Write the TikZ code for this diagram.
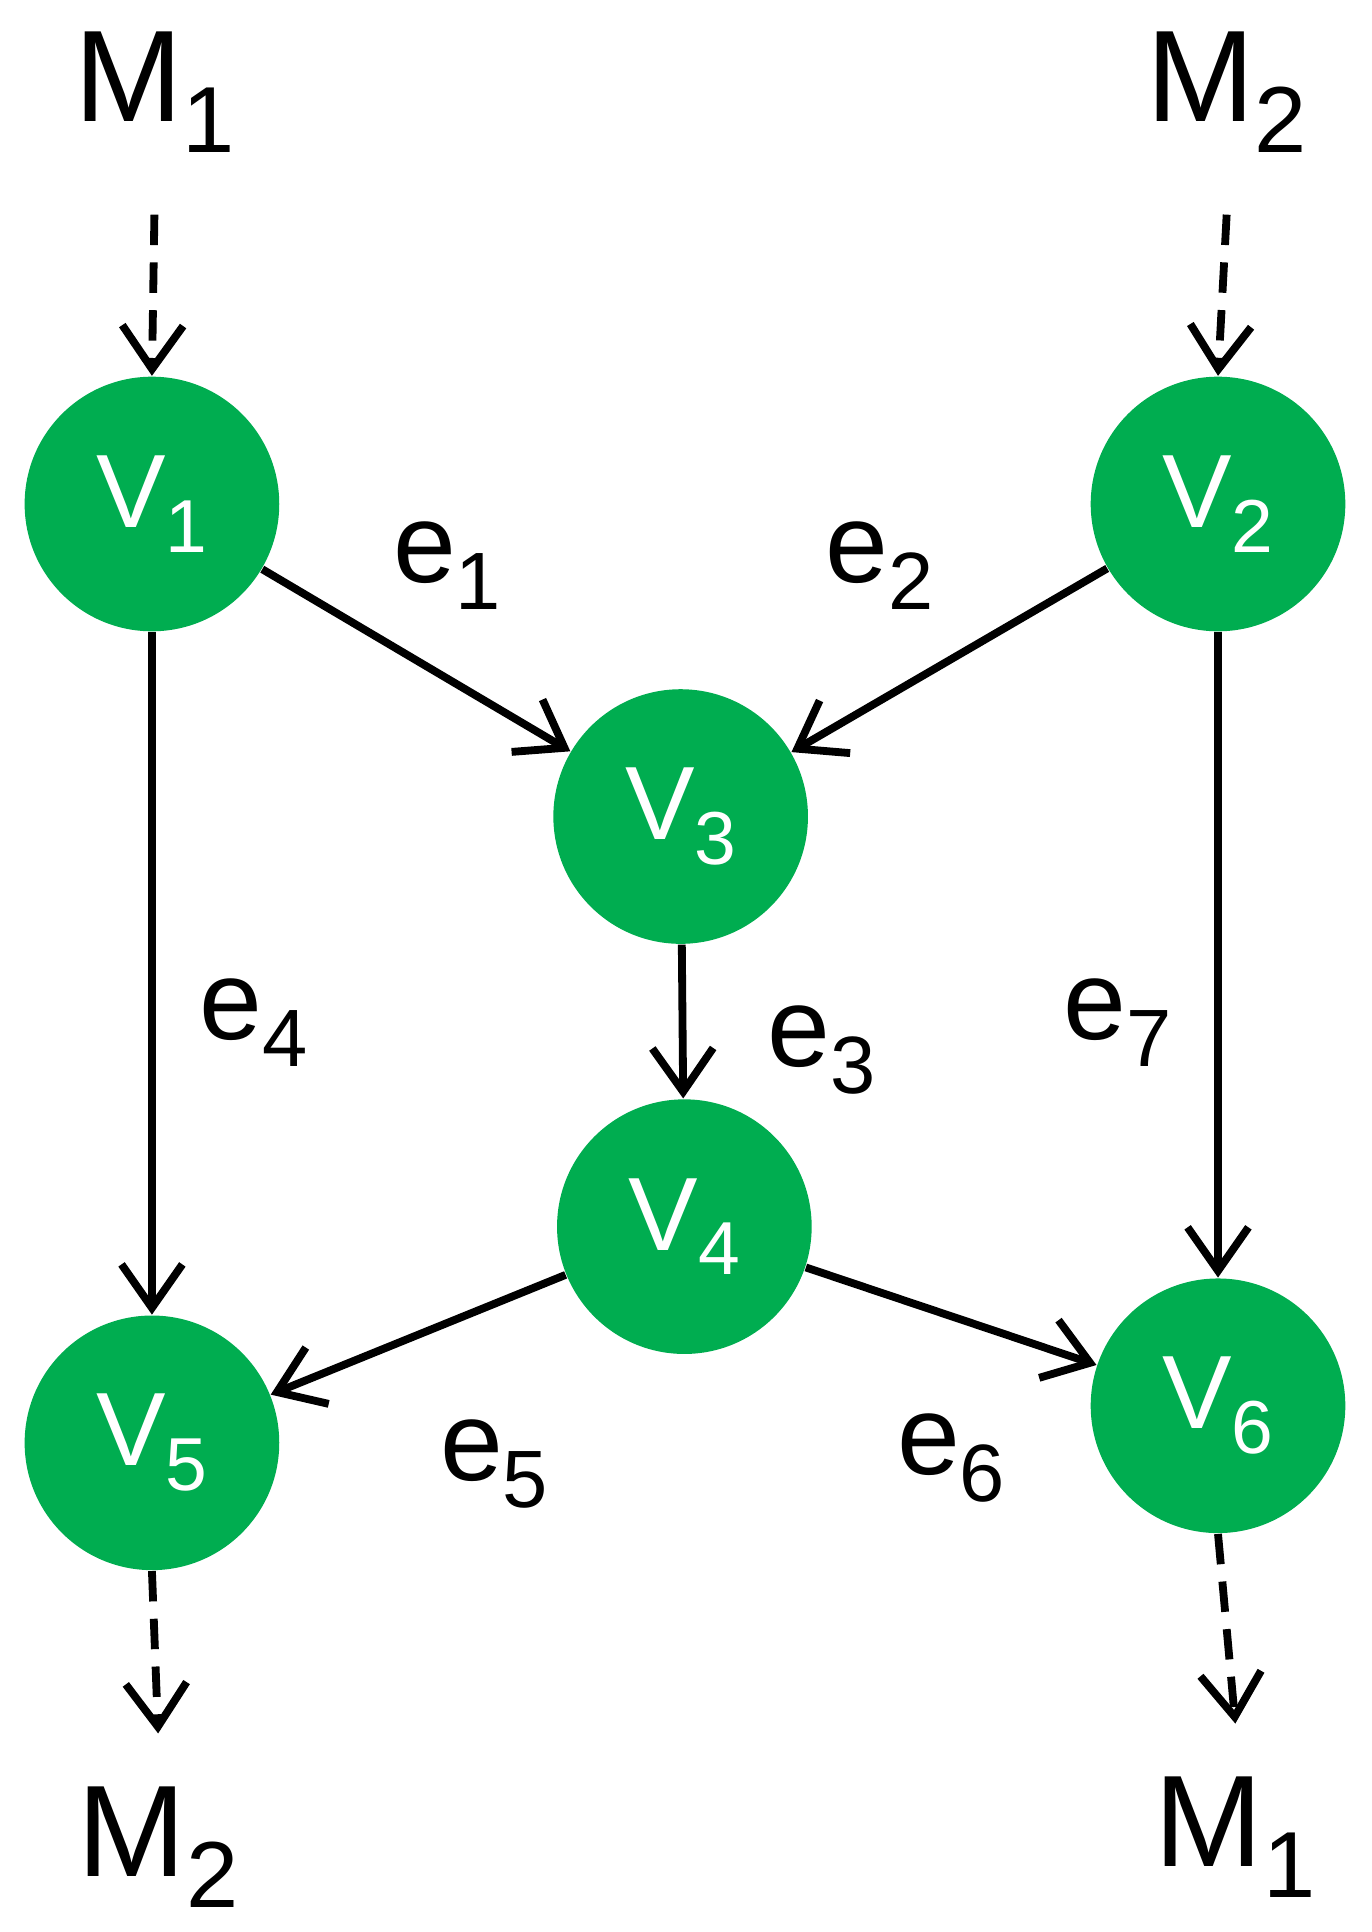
\documentclass[tikz,border=0pt]{standalone}
\usepackage{fontspec}
\setmainfont{Liberation Sans}
\usetikzlibrary{arrows.meta}
\definecolor{vg}{RGB}{0,173,80}
\newcommand\sbs[1]{\raisebox{-0.45ex}{\scalebox{0.72}{#1}}}
\begin{document}
\begin{tikzpicture}[x=0.01cm,y=-0.01cm,
  v/.style={circle,fill=vg,minimum size=2.06cm,inner sep=0,text=white,font=\fontsize{24}{26}\selectfont},
  m/.style={font=\fontsize{30}{32}\selectfont,inner sep=0},
  el/.style={font=\fontsize{26}{28}\selectfont,inner sep=0},
  ed/.style={line width=1.8pt,-{Straight Barb[length=10pt,width=14pt,line width=1.8pt]}},
  dd/.style={ed,dash pattern=on 7pt off 4pt}]
\useasboundingbox (0,0) rectangle (1110,1564);
\node[v] (v1) at (123,408) {V\sbs{1}};
\node[v] (v2) at (986,408) {V\sbs{2}};
\node[v] (v3) at (551,661) {V\sbs{3}};
\node[v] (v4) at (554,993) {V\sbs{4}};
\node[v] (v5) at (123,1168) {V\sbs{5}};
\node[v] (v6) at (986,1138) {V\sbs{6}};
\node[m] (m1) at (125,75) {M\sbs{1}};
\node[m] (m2) at (993,75) {M\sbs{2}};
\node[m] (m2b) at (128,1495) {M\sbs{2}};
\node[m] (m1b) at (1000,1487) {M\sbs{1}};
\draw[dd] ([yshift=-14pt]m1.south) -- (v1.north);
\draw[dd] ([yshift=-14pt]m2.south) -- (v2.north);
\draw[dd] (v5.south) -- ([yshift=12pt]m2b.north);
\draw[dd] (v6.south) -- ([yshift=12pt]m1b.north);
\draw[ed] (v1) -- (v3);
\draw[ed] (v2) -- (v3);
\draw[ed] (v3) -- (v4);
\draw[ed] (v1) -- (v5);
\draw[ed] (v2) -- (v6);
\draw[ed] (v4) -- (v5);
\draw[ed] (v4) -- (v6);
\node[el] (e1) at (362,458) {e\sbs{1}};
\node[el] (e2) at (712,458) {e\sbs{2}};
\node[el] (e3) at (665,850) {e\sbs{3}};
\node[el] (e4) at (205,828) {e\sbs{4}};
\node[el] (e7) at (905,828) {e\sbs{7}};
\node[el] (e5) at (400,1185) {e\sbs{5}};
\node[el] (e6) at (770,1180) {e\sbs{6}};
\end{tikzpicture}
\end{document}
